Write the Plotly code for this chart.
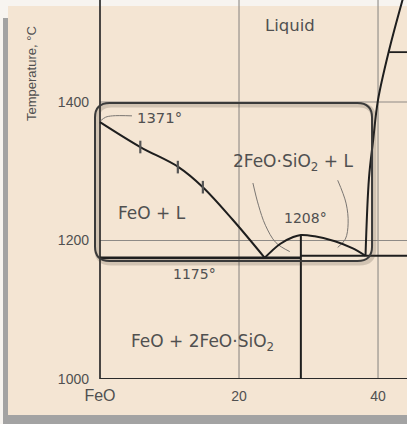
import plotly.graph_objects as go

# ---------------- data ----------------
X_TICKS = [0, 20, 40]
X_TICKTEXT = ["<span style='font-size:16px'>FeO</span>", "20", "40"]
Y_TICKS = [1000, 1200, 1400]
Y_TICKTEXT = ["1000", "1200", "1400"]

GRID_X = [20, 40]
GRID_T = [1200, 1400]

# FeO liquidus: 1371 -> eutectic 1175
LIQ_FEO_X = [0, 5.8, 11.3, 14.8, 19.1, 23.7]
LIQ_FEO_T = [1371, 1335, 1306, 1277, 1230, 1175]
# measured points on the FeO liquidus
PTS_X = [5.8, 11.2, 14.8]
PTS_T = [1335, 1306, 1277]
# fayalite (2FeO.SiO2) melting dome
DOME_X = [23.7, 25.9, 27.8, 28.9, 30.9, 33.8, 36.3, 38.2]
DOME_T = [1175, 1195, 1205, 1208, 1206, 1199, 1189, 1178]
# silica-side liquidus
LIQ_SIO2_X = [38.2, 38.7, 39.3, 40.0, 41.6, 43.6]
LIQ_SIO2_T = [1178, 1290, 1345, 1403, 1475, 1550]

FAYALITE_X = 28.9
EUT1_T = 1175
EUT2_T = 1178
FAY_TOP_T = 1208
TRANS_T = 1472
TRANS_X0 = 41.6

# leader lines for labels
LEAD_1371_X = [0.1, 0.8, 1.8, 4.6]
LEAD_1371_T = [1373, 1378, 1380, 1380]
LEAD_L_X = [22.0, 22.8, 23.8, 25.3, 27.3]
LEAD_L_T = [1283, 1251, 1222, 1197, 1184]
LEAD_R_X = [34.2, 35.4, 35.7, 35.3, 34.2]
LEAD_R_T = [1287, 1254, 1225, 1202, 1190]

# highlight box (data units)
BOX_X = [-0.72, 39.14]
BOX_T = [1170.5, 1398.5]
BOX_RX, BOX_RT = 2.1, 21

X_RANGE = [-1.151, 44.17]
Y_RANGE = [1000, 1547.3]

INK = "#1e1e1e"
GRID = "#8e8a86"
TEXT = "#505050"
BEIGE = "#f4e5d3"

fig = go.Figure()


def line(x, y, color=INK, width=2.0, shape="linear"):
    fig.add_trace(go.Scatter(x=x, y=y, mode="lines", hoverinfo="skip",
                             line=dict(color=color, width=width, shape=shape),
                             showlegend=False))


# grid lines
for gx in GRID_X:
    line([gx, gx], Y_RANGE, GRID, 1.1)
for gt in GRID_T:
    line([0, X_RANGE[1]], [gt, gt], GRID, 1.1)

# axes lines
line([0, 0], Y_RANGE, "#2a2a2a", 1.7)
line([0, X_RANGE[1]], [Y_RANGE[0], Y_RANGE[0]], "#2a2a2a", 2.2)

# leader lines
line(LEAD_1371_X, LEAD_1371_T, "#7a7672", 1.0, "spline")
line(LEAD_L_X, LEAD_L_T, "#7a7672", 1.0, "spline")
line(LEAD_R_X, LEAD_R_T, "#7a7672", 1.0, "spline")

# phase boundaries
line(LIQ_FEO_X, LIQ_FEO_T, INK, 2.0, "spline")
line(DOME_X, DOME_T, INK, 2.0, "spline")
line(LIQ_SIO2_X, LIQ_SIO2_T, INK, 2.0, "spline")
line([0, FAYALITE_X], [EUT1_T, EUT1_T], INK, 2.8)
line([FAYALITE_X, X_RANGE[1]], [EUT2_T, EUT2_T], INK, 2.0)
line([FAYALITE_X, FAYALITE_X], [Y_RANGE[0], FAY_TOP_T], INK, 2.0)
line([TRANS_X0, X_RANGE[1]], [TRANS_T, TRANS_T], INK, 1.8)

fig.add_trace(go.Scatter(x=PTS_X, y=PTS_T, mode="markers", hoverinfo="skip",
                         marker=dict(symbol="line-ns", size=9,
                                     line=dict(color="#555", width=2.2)),
                         showlegend=False))


def rounded(x0, x1, y0, y1, rx, ry):
    return (f"M {x0+rx},{y1} L {x1-rx},{y1} Q {x1},{y1} {x1},{y1-ry} "
            f"L {x1},{y0+ry} Q {x1},{y0} {x1-rx},{y0} L {x0+rx},{y0} "
            f"Q {x0},{y0} {x0},{y0+ry} L {x0},{y1-ry} Q {x0},{y1} {x0+rx},{y1} Z")


shapes = []
# paper background pieces (pixel -> paper)
W, H = 407, 424
L, B = 92, 45
PW, PH = W - L, H - B


def px(p):
    return (p - L) / PW


def py(p):
    return (H - B - p) / PH


shapes.append(dict(type="rect", xref="paper", yref="paper", layer="below",
                   x0=px(0), x1=px(W), y0=py(0), y1=py(H),
                   fillcolor="#f7f4f0", line=dict(width=0)))
shapes.append(dict(type="rect", xref="paper", yref="paper", layer="below",
                   x0=px(8), x1=px(W), y0=py(6), y1=py(415),
                   fillcolor=BEIGE, line=dict(width=0)))
shapes.append(dict(type="rect", xref="paper", yref="paper", layer="below",
                   x0=px(3), x1=px(8), y0=py(18), y1=py(424),
                   fillcolor="#a3a3a3", line=dict(width=0)))
shapes.append(dict(type="rect", xref="paper", yref="paper", layer="below",
                   x0=px(3), x1=px(W), y0=py(415), y1=py(424),
                   fillcolor="#a3a3a3", line=dict(width=0)))

# box shadow + box
shapes.append(dict(type="path", xref="x", yref="y", layer="above",
                   path=rounded(BOX_X[0] + 0.25, BOX_X[1] + 0.25, BOX_T[0] - 3,
                                BOX_T[1] - 3, BOX_RX, BOX_RT),
                   line=dict(color="rgba(70,60,50,0.20)", width=5)))
shapes.append(dict(type="path", xref="x", yref="y", layer="above",
                   path=rounded(BOX_X[0], BOX_X[1], BOX_T[0], BOX_T[1], BOX_RX, BOX_RT),
                   line=dict(color="#3a3a3a", width=2)))

LABEL_FONT = dict(family="DejaVu Sans", size=17, color=TEXT)
NUM_FONT = dict(family="DejaVu Sans", size=14, color=TEXT)

annotations = [
    dict(x=27.3, y=1511, text="Liquid", font=dict(family="DejaVu Sans", size=16.5, color=TEXT)),
    dict(x=5.0, y=1377, text="1371°", font=dict(family="DejaVu Sans", size=14.8, color=TEXT),
         xanchor="left"),
    dict(x=7.5, y=1240, text="FeO + L", font=LABEL_FONT),
    dict(x=27.8, y=1312, text="2FeO·SiO<sub>2</sub> + L", font=LABEL_FONT),
    dict(x=29.6, y=1232, text="1208°", font=NUM_FONT),
    dict(x=13.6, y=1151, text="1175°", font=NUM_FONT),
    dict(x=14.8, y=1052, text="FeO + 2FeO·SiO<sub>2</sub>", font=LABEL_FONT),
    dict(xref="paper", yref="paper", x=px(32), y=py(74), text="Temperature, °C",
         textangle=-90, xanchor="center", yanchor="middle",
         font=dict(family="Liberation Sans", size=13, color=TEXT)),
]
for a in annotations:
    a.setdefault("xref", "x")
    a.setdefault("yref", "y")
    a.setdefault("yanchor", "middle")
    a.setdefault("xanchor", "center")
    a["showarrow"] = False

fig.update_layout(
    width=W, height=H,
    margin=dict(l=L, r=0, t=0, b=B, pad=0),
    paper_bgcolor=BEIGE,
    plot_bgcolor="rgba(0,0,0,0)",
    shapes=shapes,
    annotations=annotations,
    hovermode=False,
    xaxis=dict(range=X_RANGE, tickvals=X_TICKS, ticktext=X_TICKTEXT,
               showgrid=False, zeroline=False, showline=False, ticks="",
               ticklabelstandoff=7, fixedrange=True,
               tickfont=dict(family="Liberation Sans", size=14, color=TEXT)),
    yaxis=dict(range=Y_RANGE, tickvals=Y_TICKS, ticktext=Y_TICKTEXT,
               showgrid=False, zeroline=False, showline=False, ticks="",
               ticklabelstandoff=2, fixedrange=True,
               tickfont=dict(family="Liberation Sans", size=14, color=TEXT)),
)

fig.write_html("out.html", config={"displayModeBar": False, "staticPlot": True},
               post_script="document.body.style.margin='0';document.body.style.overflow='hidden';")
